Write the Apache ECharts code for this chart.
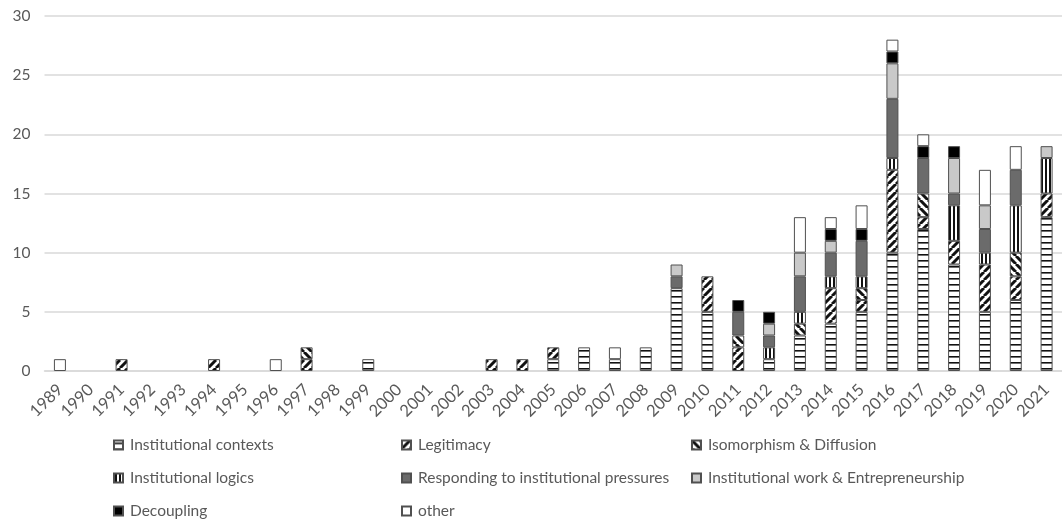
<!DOCTYPE html>
<html>
<head>
<meta charset="utf-8">
<script src="https://cdn.jsdelivr.net/npm/echarts@6/dist/echarts.min.js"></script>
<style>
html,body{margin:0;padding:0;background:#fff;}
#chart{width:1062px;height:519px;}
</style>
</head>
<body>
<div id="chart"></div>
<script>
const years = ['1989','1990','1991','1992','1993','1994','1995','1996','1997','1998','1999','2000','2001','2002','2003','2004','2005','2006','2007','2008','2009','2010','2011','2012','2013','2014','2015','2016','2017','2018','2019','2020','2021'];
const institutionalContexts = [0,0,0,0,0,0,0,0,0,0,1,0,0,0,0,0,1,2,1,2,7,5,0,1,3,4,5,10,12,9,5,6,13];
const legitimacy            = [0,0,1,0,0,1,0,0,1,0,0,0,0,0,1,1,1,0,0,0,0,3,2,0,0,3,1,7,1,2,4,2,2];
const isomorphism           = [0,0,0,0,0,0,0,0,1,0,0,0,0,0,0,0,0,0,0,0,0,0,1,0,1,0,1,0,2,0,0,2,0];
const institutionalLogics   = [0,0,0,0,0,0,0,0,0,0,0,0,0,0,0,0,0,0,0,0,0,0,0,1,1,1,1,1,0,3,1,4,3];
const responding            = [0,0,0,0,0,0,0,0,0,0,0,0,0,0,0,0,0,0,0,0,1,0,2,1,3,2,3,5,3,1,2,3,0];
const institutionalWork     = [0,0,0,0,0,0,0,0,0,0,0,0,0,0,0,0,0,0,0,0,1,0,0,1,2,1,0,3,0,3,2,0,1];
const decoupling            = [0,0,0,0,0,0,0,0,0,0,0,0,0,0,0,0,0,0,0,0,0,0,1,1,0,1,1,1,1,1,0,0,0];
const other                 = [1,0,0,0,0,0,0,1,0,0,0,0,0,0,0,0,0,0,1,0,0,0,0,0,3,1,2,1,1,0,3,2,0];
const yTicks = [0,5,10,15,20,25,30];

function tile(size, draw){
  const c = document.createElement('canvas');
  c.width = size; c.height = size;
  const ctx = c.getContext('2d');
  ctx.fillStyle = '#fff'; ctx.fillRect(0,0,size,size);
  ctx.fillStyle = '#111'; ctx.strokeStyle = '#111';
  draw(ctx,size);
  return {image: c, repeat: 'repeat'};
}
const patHoriz = tile(6,(ctx,s)=>{ctx.fillRect(0,2,s,1.6);});
const patVert  = tile(4,(ctx,s)=>{ctx.fillRect(1,0,2,s);});
const patUp = tile(8,(ctx,s)=>{ctx.lineWidth=3;ctx.beginPath();for(let k=-1;k<=1;k++){ctx.moveTo(k*s,s);ctx.lineTo(k*s+s,0);}ctx.stroke();});
const patDown = tile(8,(ctx,s)=>{ctx.lineWidth=3;ctx.beginPath();for(let k=-1;k<=1;k++){ctx.moveTo(k*s,0);ctx.lineTo(k*s+s,s);}ctx.stroke();});

const seriesDefs = [
  ['Institutional contexts', institutionalContexts, patHoriz],
  ['Legitimacy', legitimacy, patUp],
  ['Isomorphism & Diffusion', isomorphism, patDown],
  ['Institutional logics', institutionalLogics, patVert],
  ['Responding to institutional pressures', responding, '#6b6b6b'],
  ['Institutional work & Entrepreneurship', institutionalWork, '#c9c9c9'],
  ['Decoupling', decoupling, '#000000'],
  ['other', other, '#ffffff']
];

const legendPos = [
  [113,437],[401,437],[691,437],
  [113,470],[401,470],[691,470],
  [113,503],[401,503]
];

const font = 'Lato, "Open Sans", sans-serif';
const chart = echarts.init(document.getElementById('chart'), null, {renderer:'canvas'});
chart.setOption({
  animation: false,
  backgroundColor: '#fff',
  grid: {left: 44.5, top: 16, width: 1024, height: 355, containLabel: false},
  xAxis: {
    type: 'category', data: years,
    axisLine: {lineStyle: {color: '#d9d9d9', width: 1.5}},
    axisTick: {show: false},
    axisLabel: {rotate: 45, color: '#595959', fontSize: 16.5, fontFamily: font, margin: 16, interval: 0}
  },
  yAxis: {
    type: 'value', min: yTicks[0], max: yTicks[yTicks.length-1], interval: 5,
    axisLine: {show: false}, axisTick: {show: false},
    splitLine: {lineStyle: {color: '#d9d9d9', width: 1.5}},
    axisLabel: {color: '#595959', fontSize: 15.5, fontFamily: font, margin: 14}
  },
  legend: seriesDefs.map((d,i)=>({
    data: [d[0]], left: legendPos[i][0], top: legendPos[i][1],
    icon: 'rect', itemWidth: 9, itemHeight: 9, itemGap: 0, padding: 0,
    textStyle: {color: '#595959', fontSize: 15.5, fontFamily: font, padding: [0,0,0,2]},
    selectedMode: false
  })),
  series: seriesDefs.map(d=>({
    name: d[0], type: 'bar', stack: 'total', barWidth: 12,
    data: d[1].map(v => v === 0 ? null : v),
    itemStyle: {color: d[2], borderColor: '#505050', borderWidth: 1}
  }))
});
</script>
</body>
</html>
